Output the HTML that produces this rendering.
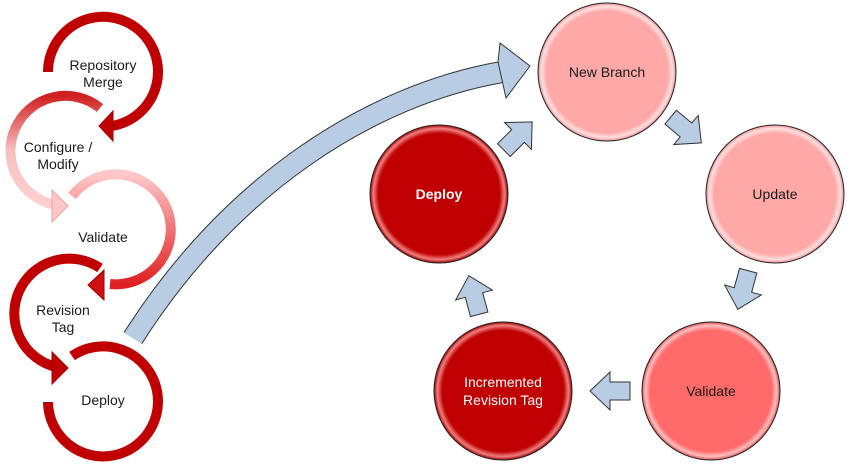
<!DOCTYPE html>
<html><head><meta charset="utf-8"><style>
html,body{margin:0;padding:0;background:#fff;}
svg{display:block;}
text{font-family:"Liberation Sans",sans-serif;font-size:14px;fill:#1a1a1a;text-anchor:middle;}
</style></head><body>
<svg width="848" height="464" viewBox="0 0 848 464" xmlns="http://www.w3.org/2000/svg">
<defs>
<radialGradient id="gNB" cx="50%" cy="50%" r="50%"><stop offset="88%" stop-color="#ffa8a8"/><stop offset="95%" stop-color="#ffe0e0"/><stop offset="100%" stop-color="#f09090"/></radialGradient>
<radialGradient id="gV" cx="50%" cy="50%" r="50%"><stop offset="88%" stop-color="#ff6a6a"/><stop offset="95%" stop-color="#ffc0c0"/><stop offset="100%" stop-color="#e05050"/></radialGradient>
<radialGradient id="gD" cx="50%" cy="50%" r="50%"><stop offset="88%" stop-color="#c00000"/><stop offset="95%" stop-color="#f08080"/><stop offset="100%" stop-color="#a00000"/></radialGradient>
<linearGradient id="gC" x1="0" y1="0" x2="0" y2="1"><stop offset="0" stop-color="#d02020"/><stop offset="0.5" stop-color="#f8c0c0"/><stop offset="1" stop-color="#ffd0d0"/></linearGradient>
<linearGradient id="gVa" x1="0" y1="0" x2="0" y2="1"><stop offset="0" stop-color="#ffc8c8"/><stop offset="1" stop-color="#e02020"/></linearGradient>
</defs>

<g fill="none" stroke-width="10" stroke-linecap="butt">
<path d="M48,72 A55,55 0 1 1 112,126" stroke="#c00000"/>
<path d="M100,108 A55,55 0 1 0 56,205" stroke="url(#gC)"/>
<path d="M72,196 A55,55 0 1 1 110,284" stroke="url(#gVa)"/>
<path d="M100,268 A55,55 0 1 0 56,367" stroke="#c00000"/>
<path d="M72,356 A55,55 0 1 1 48,402" stroke="#c00000"/>
</g>
<g stroke-width="1">
<polygon points="113,111 113,141 99,126" fill="#c00000" stroke="#a00000"/>
<polygon points="52,190 52,222 68,206" fill="#ffc8c8" stroke="#f0a0a0"/>
<polygon points="104,270 104,300 88,285" fill="#d01010" stroke="#a00000"/>
<polygon points="52,352 52,384 68,368" fill="#c00000" stroke="#a00000"/>
</g>
<text x="103" y="70">Repository</text><text x="103" y="87">Merge</text>
<text x="58" y="152">Configure /</text><text x="58" y="169">Modify</text>
<text x="103" y="242">Validate</text>
<text x="63" y="315">Revision</text><text x="63" y="332">Tag</text>
<text x="103" y="405">Deploy</text>

<path d="M133,338 C230,185 370,95 502,72" fill="none" stroke="#333" stroke-width="22"/>
<path d="M133,338 C230,185 370,95 502,72" fill="none" stroke="#b8cce4" stroke-width="20"/>
<polygon points="500,43 530,66 506,98 502,80 498,62" fill="#b8cce4" stroke="#333" stroke-width="1"/>

<g fill="#b8cce4" stroke="#333" stroke-width="1">
<polygon transform="translate(518,136) rotate(-45)" points="-20,-9 0,-9 0,-19 20,0 0,19 0,9 -20,9"/>
<polygon transform="translate(686,130) rotate(40)" points="-20,-9 0,-9 0,-19 20,0 0,19 0,9 -20,9"/>
<polygon transform="translate(743,290) rotate(105)" points="-20,-9 0,-9 0,-19 20,0 0,19 0,9 -20,9"/>
<polygon transform="translate(610,391) rotate(180)" points="-20,-9 0,-9 0,-19 20,0 0,19 0,9 -20,9"/>
<polygon transform="translate(474,295) rotate(-105)" points="-20,-9 0,-9 0,-19 20,0 0,19 0,9 -20,9"/>
</g>

<g stroke="#222" stroke-width="1">
<circle cx="607" cy="72" r="69" fill="url(#gNB)"/>
<circle cx="775" cy="194" r="69" fill="url(#gNB)"/>
<circle cx="711" cy="391" r="69" fill="url(#gV)"/>
<circle cx="503" cy="391" r="69" fill="url(#gD)"/>
<circle cx="439" cy="194" r="69" fill="url(#gD)"/>
</g>
<text x="607" y="77">New Branch</text>
<text x="775" y="199">Update</text>
<text x="711" y="396">Validate</text>
<text x="503" y="387" style="fill:#fff">Incremented</text>
<text x="503" y="405" style="fill:#fff">Revision Tag</text>
<text x="439" y="199" style="fill:#fff;font-weight:bold">Deploy</text>
</svg>
</body></html>
